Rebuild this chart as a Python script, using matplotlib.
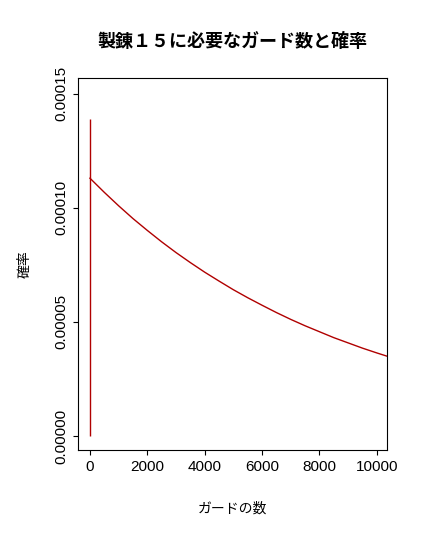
import matplotlib
matplotlib.use('Agg')
import matplotlib.pyplot as plt

plt.rcParams['font.family'] = ['Noto Sans CJK JP', 'DejaVu Sans']

# values
guards = [0, 500, 1000, 1500, 2000, 2500, 3000, 3500, 4000, 4500, 5000,
          5500, 6000, 6500, 7000, 7500, 8000, 8500, 9000, 9500, 10000, 10500]
prob = [113.0, 106.8, 100.9, 95.3, 90.1, 85.1, 80.4, 76.0, 71.8, 67.9, 64.1,
        60.6, 57.3, 54.1, 51.1, 48.3, 45.7, 43.1, 40.8, 38.5, 36.4, 34.4]
prob = [p * 1e-6 for p in prob]
spike_x = 0
spike_top = 0.000139

fig = plt.figure(figsize=(4.28, 5.48), dpi=100)
ax = fig.add_axes([0.182, 0.179, 0.722, 0.679])
ax.plot(guards, prob, color='#b00000', lw=1)
ax.vlines(spike_x, 0, spike_top, color='#b00000', lw=1)

ax.set_xlim(-420, 10350)
ax.set_ylim(-0.0000061, 0.000157)
ax.set_xticks([0, 2000, 4000, 6000, 8000, 10000])
ax.set_yticks([0, 0.00005, 0.0001, 0.00015])
ax.set_yticklabels(['0.00000', '0.00005', '0.00010', '0.00015'], rotation=90, va='center')
ax.tick_params(labelsize=11)
for lbl in ax.get_xticklabels() + ax.get_yticklabels():
    lbl.set_family('Liberation Sans')
ax.set_xlabel('ガードの数', fontsize=10, labelpad=20)
ax.set_ylabel('確率', fontsize=10, labelpad=16)
ax.set_title('製錬１５に必要なガード数と確率', fontsize=13, fontweight='bold', pad=22)

fig.savefig('out.png', dpi=100, facecolor='w')
